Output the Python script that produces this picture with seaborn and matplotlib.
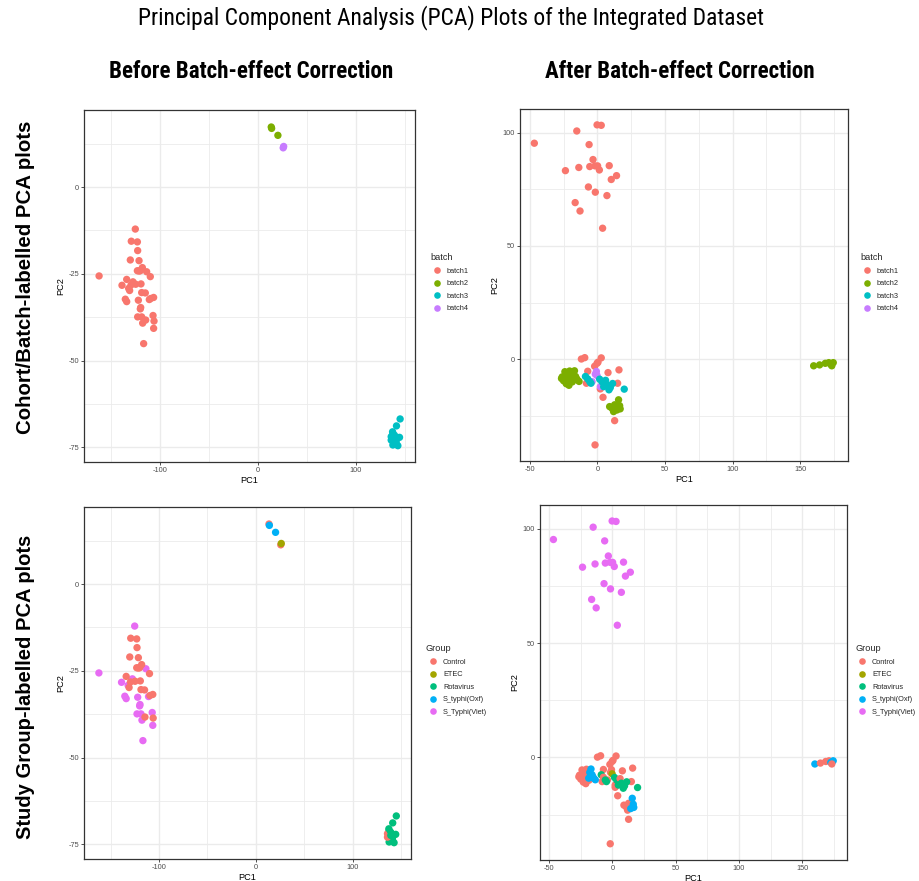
import matplotlib
matplotlib.use("Agg")
import matplotlib.pyplot as plt
import seaborn as sns
import pandas as pd
from matplotlib import font_manager
from matplotlib.ticker import FixedLocator

# ---------------- data: before batch-effect correction ----------------
before_pc1 = [-125.2, -162.2, -113.6, -138.8, -127.6, -132.0, -122.1, -135.4, -134.0, -110.9,
              -119.7, -120.1, -122.8, -118.7, -107.1, -117.7, -106.5, -116.7,
              -129.3, -123.1, -122.8, -130.3, -121.4, -118.0, -123.1, -120.1, -109.9, -134.0,
              -124.8, -131.0, -119.4, -118.7, -115.0, -109.5, -106.5, -114.6, -106.1, -129.6, -121.4,
              13.6, 14.0, 20.4,
              25.8, 26.3,
              145.2, 141.5, 137.8, 136.1, 139.5, 144.6, 141.2, 137.8, 142.9, 136.1, 139.5, 137.5]
before_pc2 = [-12.1, -25.6, -24.4, -28.3, -27.3, -29.2, -32.6, -32.3, -33.0, -32.4,
              -34.7, -35.1, -37.4, -37.4, -37.0, -39.2, -40.7, -45.1,
              -15.6, -15.8, -18.3, -21.0, -21.2, -23.2, -24.1, -24.1, -25.8, -26.6,
              -28.0, -29.8, -27.9, -30.4, -30.5, -32.1, -31.8, -38.3, -38.6, -28.2, -24.2,
              17.3, 16.9, 14.9,
              11.3, 11.7,
              -66.8, -68.8, -71.0, -71.9, -71.5, -72.1, -73.4, -74.3, -74.5, -72.9, -72.4, -70.5]
before_batch = (["batch1"] * 39 + ["batch2"] * 3 + ["batch4"] * 2 + ["batch3"] * 12)
before_group = (["S_Typhi(Viet)"] * 18 + ["Control"] * 21 +
                ["Control", "S_typhi(Oxf)", "S_typhi(Oxf)"] +
                ["Control", "ETEC"] +
                ["Rotavirus", "Rotavirus", "Rotavirus", "Control", "Rotavirus", "Rotavirus",
                 "Rotavirus", "Rotavirus", "Rotavirus", "Control", "Rotavirus", "Rotavirus"])

# ---------------- data: after batch-effect correction ----------------
after_pc1 = [-0.2, 2.9, -15.2, -46.6, -6.1, -3.2, -23.6, -13.7, -5.6, -1.7, 0.2, 1.5, 8.8, 14.2,
             10.3, -6.6, -1.5, 7.1, -16.4, -12.8, 3.9,
             -11.8, -9.3, 2.9, 0.5, -2.0, -7.1, 7.9, 16.0, -8.1, 2.2, 4.2, 15.0, 12.8, -1.7, -0.2,
             -24.0, -26.0, -25.0, -23.0, -21.0, -19.5, -22.0, -20.5, -18.5, -23.5, -20.0, -26.5,
             -16.9, -17.9, -16.1, -14.8, -13.5, -18.7, -15.5, -17.0,
             9.1, 10.8, 12.8, 12.0, 13.3,
             14.5, 16.9, 15.7, 16.5,
             160.0, 164.4, 168.6, 171.2, 172.6, 174.5, 173.4,
             -0.7, -1.5, -3.9, 2.2, -0.2,
             -8.8, -7.1, -5.6, -4.7, 1.7, 3.4, 6.1, 7.1, 9.6, 11.3, 8.6, 19.9, 4.7]
after_pc2 = [103.4, 103.2, 100.7, 95.3, 94.7, 88.1, 83.2, 84.6, 85.0, 85.3, 85.3, 83.5, 85.4, 81.0,
             79.3, 76.0, 73.7, 72.2, 69.1, 65.4, 57.8,
             0.1, 0.7, 0.6, -1.3, -3.1, -5.3, -5.9, -4.7, -10.6, -13.1, -16.8, -10.6, -27.1, -37.8, -1.8,
             -5.5, -7.8, -9.5, -10.8, -11.5, -7.5, -8.0, -5.2, -10.0, -6.8, -9.0, -8.5,
             -5.1, -6.6, -7.6, -9.1, -9.8, -9.1, -8.5, -8.0,
             -20.9, -21.6, -20.1, -23.1, -21.3,
             -22.4, -21.9, -17.9, -20.5,
             -2.9, -2.5, -1.8, -1.5, -2.2, -1.5, -2.9,
             -5.4, -6.6, -9.9, -12.1, -7.2,
             -7.6, -8.7, -9.9, -10.6, -8.8, -9.9, -9.3, -11.3, -12.5, -10.7, -13.5, -13.2, -12.1]
after_batch = (["batch1"] * 36 + ["batch2"] * 36 + ["batch4"] * 5 + ["batch3"] * 13)
after_group = (["S_Typhi(Viet)"] * 21 + ["Control"] * 15 +
               ["Control"] * 12 + ["S_typhi(Oxf)"] * 8 +
               ["Control"] * 5 + ["S_typhi(Oxf)"] * 4 +
               ["S_typhi(Oxf)", "Control", "Control", "Control", "S_typhi(Oxf)", "S_typhi(Oxf)", "Control"] +
               ["Control", "Control", "Control", "Control", "ETEC"] +
               ["Rotavirus", "Control", "Rotavirus", "Rotavirus", "Rotavirus", "Rotavirus", "Control",
                "Rotavirus", "Rotavirus", "Rotavirus", "Rotavirus", "Rotavirus", "Rotavirus"])

batch_levels = ["batch1", "batch2", "batch3", "batch4"]
batch_colors = ["#F8766D", "#7CAE00", "#00BFC4", "#C77CFF"]
group_levels = ["Control", "ETEC", "Rotavirus", "S_typhi(Oxf)", "S_Typhi(Viet)"]
group_colors = ["#F8766D", "#A3A500", "#00BF7D", "#00B0F6", "#E76BF3"]

before = pd.DataFrame({"PC1": before_pc1, "PC2": before_pc2, "batch": before_batch, "Group": before_group})
after = pd.DataFrame({"PC1": after_pc1, "PC2": after_pc2, "batch": after_batch, "Group": after_group})

# ---------------- style ----------------
sns.set_theme(style="white")
plt.rcParams['font.family'] = ['Liberation Sans', 'DejaVu Sans']
plt.rcParams['axes.unicode_minus'] = False

names = {f.name for f in font_manager.fontManager.ttflist}
narrow = next((n for n in ['Roboto Condensed', 'Liberation Sans Narrow', 'Open Sans Condensed',
                           'DejaVu Sans Condensed'] if n in names), None)
if narrow:
    head_kw = dict(family=[narrow, 'DejaVu Sans'])
else:
    head_kw = dict(family=['DejaVu Sans'], stretch='condensed')

W, H = 919, 881
fig = plt.figure(figsize=(W / 100, H / 100), dpi=100)


def add_ax(l, t, r, b):
    return fig.add_axes([l / W, 1 - b / H, (r - l) / W, (b - t) / H])


def style(ax, xlim, ylim, xmaj, xmin, ymaj, ymin):
    ax.set_xlim(xlim)
    ax.set_ylim(ylim)
    ax.xaxis.set_major_locator(FixedLocator(xmaj))
    ax.xaxis.set_minor_locator(FixedLocator(xmin))
    ax.yaxis.set_major_locator(FixedLocator(ymaj))
    ax.yaxis.set_minor_locator(FixedLocator(ymin))
    ax.grid(which='major', color='#EBEBEB', lw=1.0)
    ax.grid(which='minor', color='#EBEBEB', lw=0.6)
    ax.set_axisbelow(True)
    for s in ax.spines.values():
        s.set_color('#333333')
        s.set_linewidth(0.9)
    ax.tick_params(which='major', length=2.5, width=0.6, color='#333333', labelsize=5.3,
                   labelcolor='#4D4D4D', pad=1.2, bottom=True, left=True)
    ax.tick_params(which='minor', length=0)
    ax.set_xlabel('PC1', fontsize=6.6, color='black', labelpad=1)
    ax.set_ylabel('PC2', fontsize=6.6, color='black', labelpad=2)


def panel(ax, df, hue, levels, colors, lx, ly):
    sns.scatterplot(data=df, x="PC1", y="PC2", hue=hue, hue_order=levels,
                    palette=dict(zip(levels, colors)), s=28, linewidth=0, ax=ax, legend=True)
    sns.move_legend(ax, "upper left", bbox_to_anchor=(lx / W, 1 - ly / H),
                    bbox_transform=fig.transFigure, frameon=False, title=hue,
                    fontsize=5.3, title_fontsize=6.6, labelspacing=0.74, handletextpad=0.3,
                    borderpad=0, borderaxespad=0, markerscale=0.9, alignment='left')


before_x = dict(xlim=(-177.6, 160.4), ylim=(-79.2, 22.2), xmaj=[-100, 0, 100],
                xmin=[-150, -50, 50, 150], ymaj=[-75, -50, -25, 0], ymin=[-62.5, -37.5, -12.5, 12.5])
after_x = dict(xlim=(-57.2, 185.4), ylim=(-44.9, 110.4), xmaj=[-50, 0, 50, 100, 150],
               xmin=[-25, 25, 75, 125, 175], ymaj=[0, 50, 100], ymin=[-25, 25, 75])

ax1 = add_ax(84, 110, 415, 462)
panel(ax1, before, "batch", batch_levels, batch_colors, 430, 253)
style(ax1, **before_x)

ax2 = add_ax(520, 109, 848, 461)
panel(ax2, after, "batch", batch_levels, batch_colors, 860, 253)
style(ax2, **after_x)

ax3 = add_ax(84, 507, 411, 859)
panel(ax3, before, "Group", group_levels, group_colors, 426, 644)
style(ax3, **before_x)

ax4 = add_ax(540, 505, 847, 860)
panel(ax4, after, "Group", group_levels, group_colors, 855, 644)
style(ax4, **after_x)

# ---------------- headings ----------------
fig.text(451 / W, 1 - 18 / H, "Principal Component Analysis (PCA) Plots of the Integrated Dataset",
         ha='center', va='center', fontsize=16.9, color='black', **head_kw)
fig.text(251 / W, 1 - 72 / H, "Before Batch-effect Correction", ha='center', va='center',
         fontsize=16.6, fontweight='bold', color='black', **head_kw)
fig.text(680 / W, 1 - 72 / H, "After Batch-effect Correction", ha='center', va='center',
         fontsize=16.6, fontweight='bold', color='black', **head_kw)
fig.text(26 / W, 1 - 277 / H, "Cohort/Batch-labelled PCA plots", rotation=90, ha='center',
         va='center', fontsize=14.7, fontweight='bold', color='black')
fig.text(26 / W, 1 - 687 / H, "Study Group-labelled PCA plots", rotation=90, ha='center',
         va='center', fontsize=14.5, fontweight='bold', color='black')

fig.savefig("out.png", dpi=100, facecolor='white')
